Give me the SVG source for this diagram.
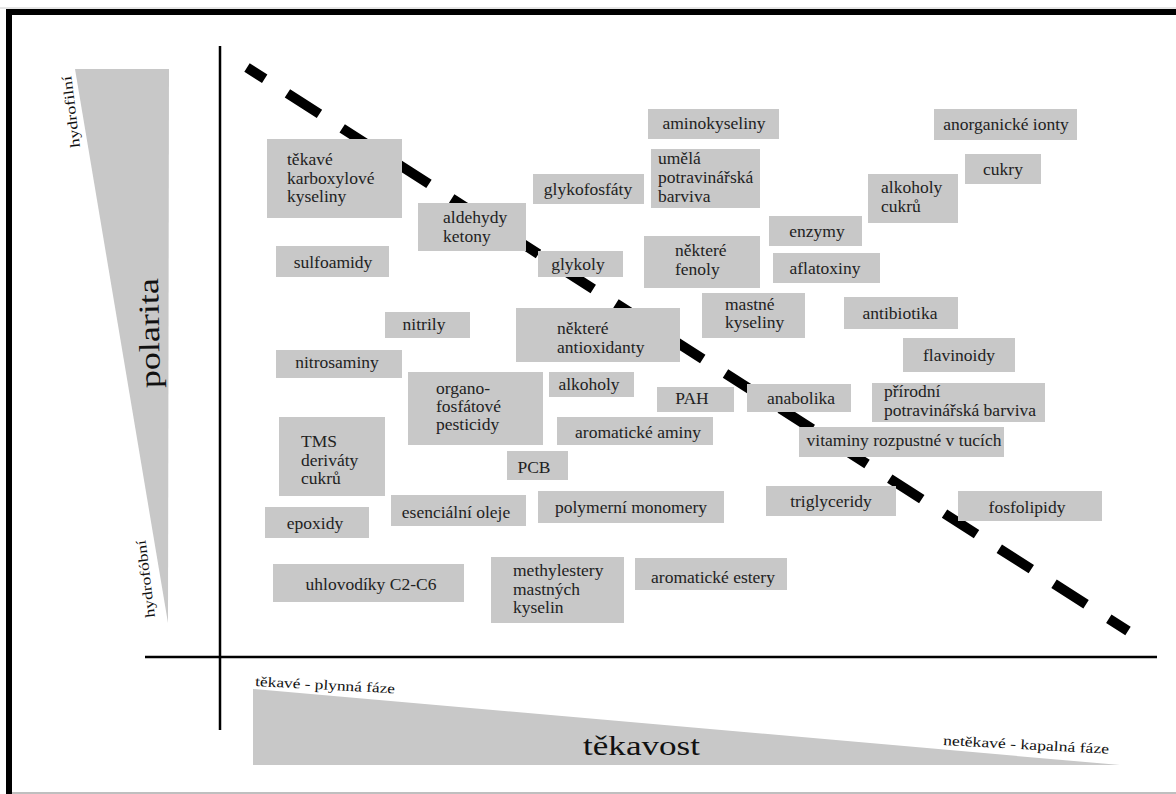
<svg xmlns="http://www.w3.org/2000/svg" width="1176" height="794" viewBox="0 0 1176 794">
<style>
.b{fill:#c8c8c8}
.t{font-family:"Liberation Serif",serif;font-size:17.5px;fill:#222}
.c{text-anchor:middle}
.ax{font-family:"Liberation Serif",serif;fill:#111}
</style>
<rect x="0" y="0" width="1176" height="794" fill="#fff"/>
<line x1="0" y1="8" x2="1176" y2="8" stroke="#ccc" stroke-width="1"/>
<rect x="9" y="12" width="1200" height="800" fill="none" stroke="#000" stroke-width="6"/>
<line x1="12" y1="793" x2="1176" y2="793" stroke="#aaa" stroke-width="1.5"/>

<g id="polarity-axis">
<polygon points="75,69 169,69 168,623" class="b"/>
<text class="ax" font-size="14" transform="translate(80,147) rotate(-97)" textLength="72" lengthAdjust="spacingAndGlyphs">hydrofilní</text>
<text class="ax" font-size="14" transform="translate(155,617) rotate(-97)" textLength="78" lengthAdjust="spacingAndGlyphs">hydrofóbní</text>
<text class="ax" font-size="29" transform="translate(160,388) rotate(-91)" textLength="110" lengthAdjust="spacingAndGlyphs">polarita</text>
</g>

<g id="volatility-axis">
<polygon points="253,689 253,765 1120,765" class="b"/>
<text class="ax" font-size="14" transform="translate(255,686) rotate(3)" textLength="140" lengthAdjust="spacingAndGlyphs">těkavé - plynná fáze</text>
<text class="ax" font-size="14" transform="translate(943,745) rotate(3)" textLength="166" lengthAdjust="spacingAndGlyphs">netěkavé - kapalná fáze</text>
<text class="ax" font-size="28" x="583" y="755" textLength="117" lengthAdjust="spacingAndGlyphs">těkavost</text>
</g>

<g id="connectors">
<line x1="220" y1="46" x2="220" y2="730" stroke="#000" stroke-width="2.5"/>
<line x1="145" y1="657" x2="1157" y2="657" stroke="#000" stroke-width="2.5"/>
<line x1="247" y1="67.5" x2="1128" y2="631" stroke="#000" stroke-width="10" stroke-dasharray="38 27" stroke-dashoffset="17"/>
</g>

<g id="n1"><rect class="b" x="267" y="139" width="135" height="79"/><text class="t" x="287"><tspan x="287" y="165">těkavé</tspan><tspan x="287" y="184">karboxylové</tspan><tspan x="287" y="202">kyseliny</tspan></text></g>
<g id="n2"><rect class="b" x="418" y="203" width="108" height="48"/><text class="t"><tspan x="443" y="223">aldehydy</tspan><tspan x="443" y="242">ketony</tspan></text></g>
<g id="n3"><rect class="b" x="533" y="174" width="111" height="30"/><text class="t c" x="588" y="195">glykofosfáty</text></g>
<g id="n4"><rect class="b" x="648" y="109" width="131" height="30"/><text class="t c" x="714" y="129">aminokyseliny</text></g>
<g id="n5"><rect class="b" x="651" y="149" width="109" height="59"/><text class="t"><tspan x="658" y="164">umělá</tspan><tspan x="658" y="183">potravinářská</tspan><tspan x="658" y="202">barviva</tspan></text></g>
<g id="n6"><rect class="b" x="538" y="251" width="85" height="26"/><text class="t c" x="578" y="270">glykoly</text></g>
<g id="n7"><rect class="b" x="644" y="236" width="116" height="52"/><text class="t"><tspan x="675" y="256">některé</tspan><tspan x="675" y="275">fenoly</tspan></text></g>
<g id="n8"><rect class="b" x="769" y="216" width="93" height="30"/><text class="t c" x="817" y="237">enzymy</text></g>
<g id="n9"><rect class="b" x="773" y="253" width="107" height="30"/><text class="t c" x="825" y="274">aflatoxiny</text></g>
<g id="n10"><rect class="b" x="868" y="174" width="90" height="49"/><text class="t"><tspan x="881" y="193">alkoholy</tspan><tspan x="881" y="212">cukrů</tspan></text></g>
<g id="n11"><rect class="b" x="965" y="154" width="76" height="30"/><text class="t c" x="1003" y="175">cukry</text></g>
<g id="n12"><rect class="b" x="934" y="109" width="143" height="31"/><text class="t c" x="1006" y="130">anorganické ionty</text></g>
<g id="n13"><rect class="b" x="844" y="297" width="114" height="32"/><text class="t c" x="900" y="319">antibiotika</text></g>
<g id="n14"><rect class="b" x="903" y="338" width="112" height="34"/><text class="t c" x="959" y="361">flavinoidy</text></g>
<g id="n15"><rect class="b" x="872" y="383" width="173" height="39"/><text class="t"><tspan x="884" y="397">přírodní</tspan><tspan x="884" y="416">potravinářská barviva</tspan></text></g>
<g id="n16"><rect class="b" x="747" y="384" width="104" height="28"/><text class="t c" x="801" y="404">anabolika</text></g>
<g id="n17"><rect class="b" x="799" y="427" width="205" height="30"/><text class="t c" x="904" y="446">vitaminy rozpustné v tucích</text></g>
<g id="n18"><rect class="b" x="766" y="486" width="130" height="30"/><text class="t c" x="831" y="507">triglyceridy</text></g>
<g id="n19"><rect class="b" x="958" y="491" width="144" height="30"/><text class="t c" x="1027" y="513">fosfolipidy</text></g>
<g id="n20"><rect class="b" x="702" y="293" width="103" height="45"/><text class="t"><tspan x="725" y="310">mastné</tspan><tspan x="725" y="328">kyseliny</tspan></text></g>
<g id="n21"><rect class="b" x="276" y="246" width="113" height="31"/><text class="t c" x="333" y="268">sulfoamidy</text></g>
<g id="n22"><rect class="b" x="385" y="312" width="85" height="26"/><text class="t c" x="424" y="330">nitrily</text></g>
<g id="n23"><rect class="b" x="276" y="350" width="126" height="28"/><text class="t c" x="337" y="368">nitrosaminy</text></g>
<g id="n24"><rect class="b" x="516" y="308" width="164" height="54"/><text class="t"><tspan x="557" y="334">některé</tspan><tspan x="557" y="353">antioxidanty</tspan></text></g>
<g id="n25"><rect class="b" x="549" y="372" width="85" height="25"/><text class="t c" x="589" y="390">alkoholy</text></g>
<g id="n26"><rect class="b" x="657" y="387" width="77" height="25"/><text class="t c" x="692" y="404">PAH</text></g>
<g id="n27"><rect class="b" x="408" y="372" width="135" height="73"/><text class="t"><tspan x="436" y="394">organo-</tspan><tspan x="436" y="412">fosfátové</tspan><tspan x="436" y="430">pesticidy</tspan></text></g>
<g id="n28"><rect class="b" x="557" y="417" width="156" height="28"/><text class="t c" x="638" y="438">aromatické aminy</text></g>
<g id="n29"><rect class="b" x="279" y="417" width="106" height="79"/><text class="t"><tspan x="301" y="447">TMS</tspan><tspan x="301" y="466">deriváty</tspan><tspan x="301" y="484">cukrů</tspan></text></g>
<g id="n30"><rect class="b" x="507" y="451" width="61" height="29"/><text class="t c" x="534" y="473">PCB</text></g>
<g id="n31"><rect class="b" x="391" y="495" width="135" height="31"/><text class="t c" x="456" y="518">esenciální oleje</text></g>
<g id="n32"><rect class="b" x="538" y="491" width="186" height="32"/><text class="t c" x="631" y="513">polymerní monomery</text></g>
<g id="n33"><rect class="b" x="265" y="507" width="104" height="31"/><text class="t c" x="315" y="529">epoxidy</text></g>
<g id="n34"><rect class="b" x="273" y="564" width="191" height="38"/><text class="t c" x="371" y="590">uhlovodíky C2-C6</text></g>
<g id="n35"><rect class="b" x="491" y="557" width="133" height="66"/><text class="t"><tspan x="513" y="576">methylestery</tspan><tspan x="513" y="595">mastných</tspan><tspan x="513" y="613">kyselin</tspan></text></g>
<g id="n36"><rect class="b" x="635" y="558" width="152" height="32"/><text class="t c" x="713" y="583">aromatické estery</text></g>
</svg>
